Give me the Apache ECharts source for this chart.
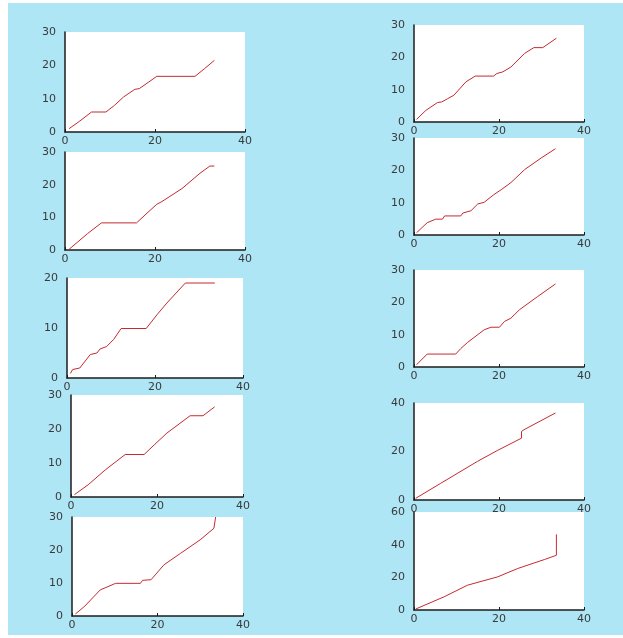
<!DOCTYPE html>
<html>
<head>
<meta charset="utf-8">
<script src="https://cdn.jsdelivr.net/npm/echarts/dist/echarts.min.js"></script>
<style>
html,body{margin:0;padding:0;background:#fff;}
#bg{position:absolute;left:8px;top:3px;width:615px;height:632px;background:#aee6f6;}
#chart{position:absolute;left:0;top:0;width:623px;height:638px;}
</style>
</head>
<body>
<div id="bg"></div>
<div id="chart"></div>
<script>
// x-axis tick labels (shared)
const xTicks = [0, 20, 40];
// y-axis maxima per panel
const yMaxL = [30, 30, 20, 30, 30];
const yMaxR = [30, 30, 30, 40, 60];
const yStepL = [10, 10, 10, 10, 10];
const yStepR = [10, 10, 10, 20, 20];

// left column series [x, y]
const seriesL1 = [[0.9,1],[3,3],[5.9,6],[9.1,6],[11,8],[13,10.5],[15.5,12.8],[16.5,13],[20.4,16.7],[28.9,16.7],[31,19],[33.2,21.5]];
const seriesL2 = [[0.9,0.2],[2,1.5],[5,5],[8.1,8.3],[15.9,8.3],[18,11],[20.4,14],[21.5,14.8],[26,18.8],[30,23.5],[32.2,25.7],[33.2,25.7]];
const seriesL3 = [[0.75,0.9],[1.3,1.7],[2.9,2],[5.3,4.7],[6.8,5],[7.5,5.8],[9,6.3],[10.6,7.7],[12.3,9.9],[18,9.9],[20.5,12.7],[22.7,15],[26.9,19],[33.6,19]];
const seriesL4 = [[0.8,0.7],[4,3.6],[8,8],[12.6,12.5],[17,12.5],[19.5,15.5],[22.3,18.8],[27.7,23.9],[30.7,23.9],[33.4,26.5]];
const seriesL5 = [[0.8,0.6],[3,3],[6.6,7.9],[10.2,9.9],[16,9.9],[16.5,10.8],[18.5,11],[21.5,15.5],[25.4,19],[30,23.1],[33.2,26.6],[33.6,30]];
// right column series [x, y]
const seriesR1 = [[0.6,0.8],[2.8,3.6],[5.5,6],[6.5,6.2],[7.9,7.2],[9.4,8.3],[12.2,12.4],[14.4,14.2],[18.7,14.2],[19.5,15],[20.9,15.5],[22.8,17],[26,21.2],[28.2,23],[30.3,23],[33.5,25.9]];
const seriesR2 = [[0.6,0.7],[3.1,3.8],[5.1,4.9],[6.7,4.9],[7.2,5.9],[11,5.9],[11.5,6.8],[13.4,7.5],[15,9.6],[16.5,10.1],[18.7,12.4],[20.5,14],[22.8,16.2],[26,20.2],[29.9,23.8],[33.3,26.7]];
const seriesR3 = [[0.6,0.7],[3.1,4],[9.8,4],[11,5.7],[12.6,7.6],[16.5,11.5],[18.1,12.3],[20.1,12.3],[21.3,14.1],[22.8,15.1],[24.8,17.7],[29.1,21.8],[33.3,25.7]];
const seriesR4 = [[0.4,0.7],[6.3,6.9],[14.9,15.9],[19.6,20.4],[25.3,25.5],[25.3,28.3],[25.9,29],[33.3,35.9]];
const seriesR5 = [[0.4,0.6],[7.1,8.1],[12.6,15.2],[19.7,20.3],[24.4,25.4],[30.7,30.9],[33.5,33.5],[33.5,46.3]];

const allSeries = [seriesL1, seriesL2, seriesL3, seriesL4, seriesL5, seriesR1, seriesR2, seriesR3, seriesR4, seriesR5];
const yMax = yMaxL.concat(yMaxR);
const yStep = yStepL.concat(yStepR);

// plot-area boxes [left, top, right, bottom] in px
const boxes = [
  [65, 32, 245, 132],
  [65, 152, 245, 250],
  [67, 278, 243, 378],
  [71, 395, 243, 497],
  [72, 517, 243, 616],
  [414, 25, 584, 122],
  [414, 138, 584, 235],
  [414, 270, 584, 367],
  [414, 403, 584, 500],
  [414, 512, 584, 610]
];

const axisColor = '#1c1c1c';
const labelStyle = {color: '#3a3a3a', fontSize: 11, fontFamily: 'DejaVu Sans'};
const grids = [], xAxes = [], yAxes = [], series = [];
boxes.forEach((b, i) => {
  grids.push({left: b[0], top: b[1], width: b[2] - b[0], height: b[3] - b[1],
    show: true, backgroundColor: '#ffffff', borderWidth: 0});
  xAxes.push({type: 'value', gridIndex: i, min: xTicks[0], max: xTicks[xTicks.length - 1], interval: xTicks[1] - xTicks[0],
    axisLine: {show: true, onZero: false, lineStyle: {color: axisColor, width: 1.5}},
    axisTick: {show: true, inside: true, length: 3, lineStyle: {color: axisColor}},
    splitLine: {show: false},
    axisLabel: Object.assign({margin: 4}, labelStyle)});
  yAxes.push({type: 'value', gridIndex: i, min: 0, max: yMax[i], interval: yStep[i],
    axisLine: {show: true, onZero: false, lineStyle: {color: axisColor, width: 1.5}},
    axisTick: {show: false},
    splitLine: {show: false},
    axisLabel: Object.assign({margin: 9}, labelStyle)});
  series.push({type: 'line', xAxisIndex: i, yAxisIndex: i, data: allSeries[i],
    showSymbol: false, symbol: 'none', lineStyle: {color: '#c42a2e', width: 1}});
});

const chart = echarts.init(document.getElementById('chart'), null, {renderer: 'canvas', width: 623, height: 638});
chart.setOption({animation: false, backgroundColor: 'transparent', grid: grids, xAxis: xAxes, yAxis: yAxes, series: series});
</script>
</body>
</html>
